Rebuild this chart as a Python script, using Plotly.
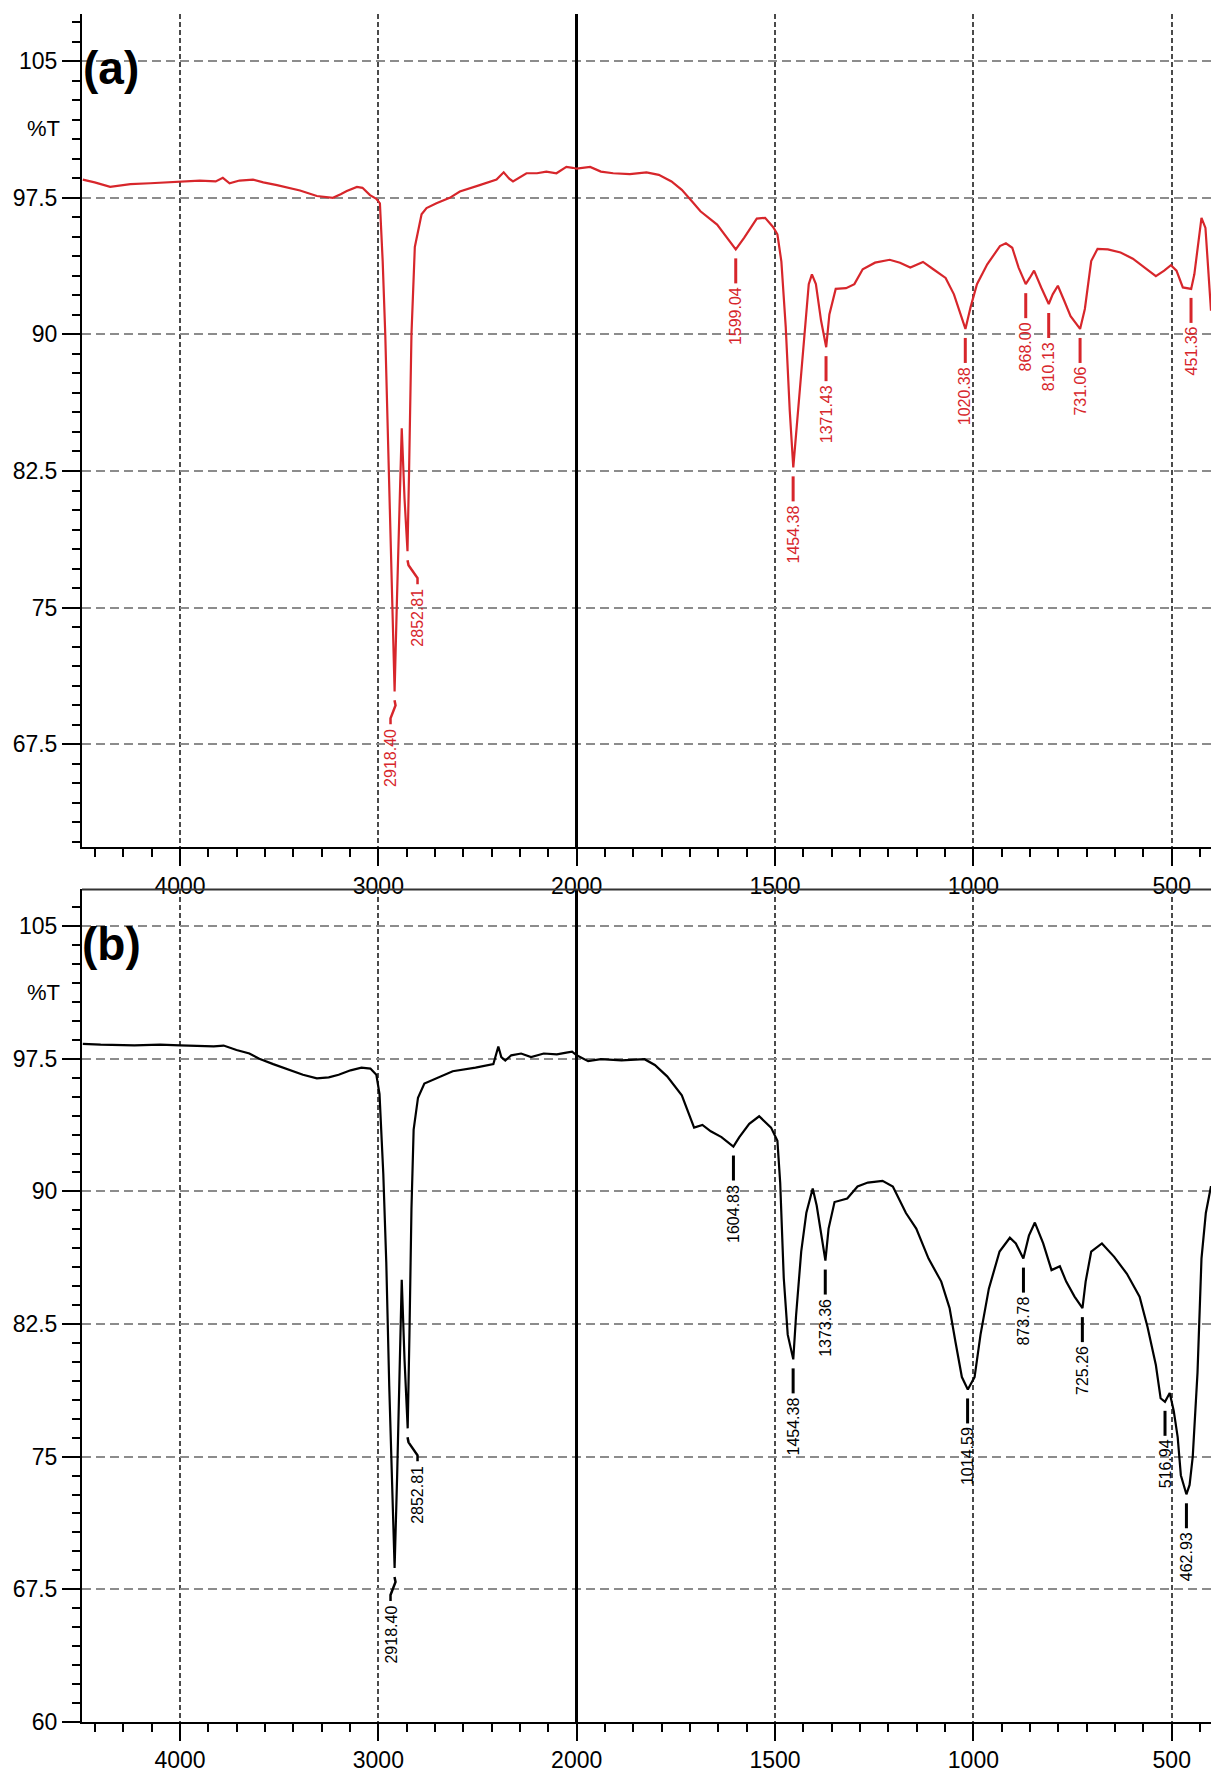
import plotly.graph_objects as go

# ---------------- data ----------------
# Panel (a): red spectrum, wavenumber (cm-1) and %T
wn_a = [4490, 4430, 4352, 4250, 4150, 4060, 4000, 3900, 3820, 3784, 3750, 3700, 3632, 3580,
        3511, 3450, 3395, 3310, 3229, 3190, 3159, 3108, 3080, 3042, 3010, 2992, 2978, 2965,
        2946, 2932, 2918, 2906, 2894, 2882, 2868, 2853, 2845, 2833, 2816, 2782, 2757, 2707,
        2640, 2589, 2489, 2404, 2368, 2340, 2321, 2290, 2253, 2200, 2153, 2102, 2052, 2020,
        2000, 1966, 1939, 1908, 1866, 1824, 1793, 1761, 1735, 1709, 1688, 1646, 1620, 1599,
        1578, 1546, 1525, 1505, 1494, 1484, 1473, 1463, 1454, 1443, 1431, 1415, 1407, 1397,
        1384, 1371, 1363, 1347, 1321, 1300, 1279, 1248, 1211, 1185, 1159, 1127, 1101, 1070,
        1049, 1033, 1020, 1007, 991, 965, 933, 918, 902, 886, 868, 858, 847, 829, 810, 800,
        787, 771, 755, 731, 719, 703, 687, 661, 629, 598, 567, 540, 519, 502, 488, 472, 451,
        443, 425, 415, 401]
t_a = [98.5, 98.35, 98.1, 98.25, 98.3, 98.35, 98.4, 98.45, 98.4, 98.6, 98.3, 98.45, 98.5, 98.35,
       98.2, 98.05, 97.9, 97.6, 97.5, 97.7, 97.87, 98.1, 98.05, 97.65, 97.45, 97.2, 94.0, 90.0,
       82.5, 76.0, 70.4, 75.5, 80.5, 84.85, 81.0, 78.1, 82.5, 90.0, 94.8, 96.6, 96.94, 97.2,
       97.5, 97.85, 98.2, 98.5, 98.9, 98.55, 98.4, 98.6, 98.85, 98.85, 98.94, 98.85, 99.2, 99.15,
       99.1, 99.2, 98.94, 98.85, 98.8, 98.9, 98.76, 98.4, 97.94, 97.3, 96.76, 96.03, 95.3, 94.67,
       95.3, 96.36, 96.4, 95.9, 95.5, 94.0, 90.4, 85.85, 82.7, 85.5, 88.6, 92.76, 93.3, 92.76,
       90.76, 89.3, 91.1, 92.5, 92.54, 92.76, 93.58, 93.94, 94.1, 93.94, 93.67, 93.98, 93.58, 93.1,
       92.2, 91.1, 90.3, 91.5, 92.76, 93.85, 94.85, 95.0, 94.76, 93.67, 92.76, 93.1, 93.5, 92.58,
       91.67, 92.2, 92.67, 91.85, 91.0, 90.3, 91.4, 94.03, 94.7, 94.67, 94.5, 94.16, 93.67, 93.2,
       93.5, 93.8, 93.5, 92.58, 92.5, 93.3, 96.4, 95.85, 91.3]

# Panel (b): black spectrum
wn_b = [4490, 4400, 4230, 4100, 4000, 3900, 3830, 3780, 3715, 3650, 3600, 3530, 3460, 3380,
        3310, 3250, 3200, 3140, 3085, 3040, 3010, 2994, 2975, 2960, 2945, 2930, 2918, 2905,
        2895, 2882, 2868, 2852, 2843, 2833, 2822, 2800, 2768, 2710, 2625, 2510, 2420, 2395,
        2380, 2360, 2330, 2280, 2230, 2166, 2100, 2052, 2023, 2000, 1971, 1939, 1887, 1829,
        1803, 1772, 1735, 1704, 1683, 1662, 1635, 1605, 1590, 1565, 1540, 1510, 1494, 1487,
        1478, 1468, 1454, 1447, 1434, 1421, 1405, 1395, 1373, 1365, 1350, 1318, 1292, 1266,
        1229, 1203, 1170, 1144, 1113, 1081, 1060, 1045, 1029, 1014, 997, 982, 961, 934, 908,
        893, 874, 860, 845, 824, 803, 782, 766, 745, 725, 717, 703, 676, 645, 613, 581, 561,
        540, 528, 517, 505, 495, 485, 477, 463, 455, 447, 435, 425, 414, 401]
t_b = [98.35, 98.3, 98.26, 98.3, 98.26, 98.2, 98.2, 98.25, 98.0, 97.8, 97.5, 97.2, 96.9, 96.6,
       96.4, 96.45, 96.6, 96.85, 97.0, 96.95, 96.6, 95.5, 91.0, 86.0, 79.0, 73.0, 68.7, 74.0,
       79.0, 85.0, 80.5, 76.6, 82.0, 89.0, 93.5, 95.3, 96.1, 96.4, 96.8, 97.0, 97.2, 98.2,
       97.6, 97.4, 97.7, 97.8, 97.6, 97.8, 97.75, 97.85, 97.9, 97.7, 97.37, 97.48, 97.41, 97.48,
       97.15, 96.51, 95.44, 93.61, 93.76, 93.4, 93.07, 92.54, 93.07, 93.82, 94.25, 93.61, 92.86, 90.5,
       85.1, 81.9, 80.5, 82.97, 86.6, 88.8, 90.17, 89.2, 86.09, 87.9, 89.4, 89.6, 90.28, 90.5,
       90.6, 90.28, 88.78, 87.9, 86.2, 84.9, 83.4, 81.47, 79.5, 78.8, 79.5, 81.9, 84.5, 86.6, 87.38,
       87.06, 86.2, 87.5, 88.24, 87.06, 85.55, 85.77, 84.9, 84.05, 83.4, 84.9, 86.6, 87.06, 86.3,
       85.34, 84.05, 82.33, 80.18, 78.3, 78.1, 78.6, 77.6, 76.1, 73.95, 72.87, 73.4, 75.0, 79.75,
       86.2, 88.78, 90.3]

# Peak labels
peaks_a = [2918.40, 2852.81, 1599.04, 1454.38, 1371.43, 1020.38, 868.00, 810.13, 731.06, 451.36]
peak_t_a = [70.4, 78.1, 94.67, 82.7, 89.3, 90.3, 92.76, 91.67, 90.3, 92.5]
peaks_b = [2918.40, 2852.81, 1604.83, 1454.38, 1373.36, 1014.59, 873.78, 725.26, 516.94, 462.93]
peak_t_b = [68.7, 76.6, 92.54, 80.5, 86.09, 78.8, 86.2, 83.4, 78.1, 72.87]

x_ticks = [4000, 3000, 2000, 1500, 1000, 500]
y_ticks = [60, 67.5, 75, 82.5, 90, 97.5, 105]

# ---------------- helpers / styles ----------------
RED = "#d7262b"
FONT = "Liberation Sans, Arial, sans-serif"
LEADER_DX = {2918.40: -4, 2852.81: 10}


def to_p(w):
    # FTIR split scale: 4500-2000 compressed 2x relative to 2000-400
    return 2000 - w if w <= 2000 else -(w - 2000) / 2.0


fig = go.Figure()
fig.add_trace(go.Scatter(x=[to_p(w) for w in wn_a], y=t_a, mode="lines",
                         line=dict(color=RED, width=2.2), xaxis="x", yaxis="y",
                         hoverinfo="skip"))
fig.add_trace(go.Scatter(x=[to_p(w) for w in wn_b], y=t_b, mode="lines",
                         line=dict(color="black", width=2.2), xaxis="x2", yaxis="y2",
                         hoverinfo="skip"))

H = 1779.0
xrange = [to_p(4494), to_p(401)]


def xaxis(anchor):
    return dict(anchor=anchor, range=xrange, domain=[0, 1],
                tickmode="array", tickvals=[to_p(v) for v in x_ticks],
                ticktext=[str(v) for v in x_ticks],
                ticks="outside", ticklen=17, tickwidth=2, tickcolor="black",
                showline=True, linecolor="black", linewidth=2,
                showgrid=True, gridcolor="#4a4a4a", griddash="5px,3px", gridwidth=1.5,
                zeroline=True, zerolinecolor="black", zerolinewidth=2.5,
                minor=dict(tickmode="linear", tick0=0, dtick=500 / 7.0, ticks="outside",
                           ticklen=8, tickwidth=2, tickcolor="black", showgrid=False),
                tickfont=dict(family=FONT, size=23, color="black"))


def yaxis(anchor, rng, dom):
    return dict(anchor=anchor, range=rng, domain=dom,
                tickmode="array", tickvals=y_ticks, ticktext=[f"{v:g}" for v in y_ticks],
                ticks="outside", ticklen=18, tickwidth=2, tickcolor="black",
                showline=True, linecolor="black", linewidth=2,
                showgrid=True, gridcolor="#8c8c8c", griddash="9px,5px", gridwidth=2,
                zeroline=False,
                minor=dict(tickmode="linear", tick0=60, dtick=7.5 / 7.0, ticks="outside",
                           ticklen=8, tickwidth=2, tickcolor="black", showgrid=False),
                tickfont=dict(family=FONT, size=23, color="black"))


fig.update_layout(
    width=1211, height=1779,
    margin=dict(l=82, r=0, t=0, b=0),
    paper_bgcolor="white", plot_bgcolor="white",
    showlegend=False,
    xaxis=xaxis("y"),
    yaxis=yaxis("x", [61.84, 107.6], [1 - 853.5 / H, 1 - 14 / H]),
    xaxis2=xaxis("y2"),
    yaxis2=yaxis("x2", [60, 107.08], [1 - 1734.5 / H, 1 - 896 / H]),
)

shapes = []
annotations = []

# top border of panel (b)
shapes.append(dict(type="line", xref="x2 domain", yref="y2 domain", x0=0, x1=1, y0=1, y1=1,
                   line=dict(color="#333333", width=2)))


def add_peaks(peaks, tvals, color, xref, yref):
    for w, t in zip(peaks, tvals):
        p = to_p(w)
        dx = LEADER_DX.get(w, 0)
        if dx == 0:
            shapes.append(dict(type="line", xref=xref, yref=yref, x0=p, x1=p,
                               ysizemode="pixel", yanchor=t, y0=-9, y1=-34,
                               line=dict(color=color, width=3)))
        else:
            shapes.append(dict(type="path", xref=xref, yref=yref,
                               xsizemode="pixel", xanchor=p, ysizemode="pixel", yanchor=t,
                               path=f"M 0,-9 L 1,-14 L {dx},-27 L {dx},-33",
                               line=dict(color=color, width=2.5)))
        annotations.append(dict(x=p, y=t, xref=xref, yref=yref, text=f"{w:.2f}",
                                showarrow=False, textangle=-90, xanchor="center",
                                yanchor="top", xshift=dx, yshift=-36,
                                font=dict(family=FONT, size=16, color=color)))


add_peaks(peaks_a, peak_t_a, RED, "x", "y")
add_peaks(peaks_b, peak_t_b, "black", "x2", "y2")

# panel letters and %T labels
annotations.append(dict(x=0.0257, y=104.63, xref="paper", yref="y", text="<b>(a)</b>",
                        showarrow=False, xanchor="center", yanchor="middle",
                        font=dict(family=FONT, size=46, color="black")))
annotations.append(dict(x=0.0257, y=104.0, xref="paper", yref="y2", text="<b>(b)</b>",
                        showarrow=False, xanchor="center", yanchor="middle",
                        font=dict(family=FONT, size=46, color="black")))
annotations.append(dict(x=-0.018, y=101.3, xref="paper", yref="y", text="%T",
                        showarrow=False, xanchor="right", yanchor="middle",
                        font=dict(family=FONT, size=22, color="black")))
annotations.append(dict(x=-0.018, y=101.24, xref="paper", yref="y2", text="%T",
                        showarrow=False, xanchor="right", yanchor="middle",
                        font=dict(family=FONT, size=22, color="black")))

fig.update_layout(shapes=shapes, annotations=annotations)

fig.write_html("out.html", config={"displayModeBar": False},
               post_script="document.body.style.margin='0px';"
                           "document.documentElement.style.overflow='hidden';")
